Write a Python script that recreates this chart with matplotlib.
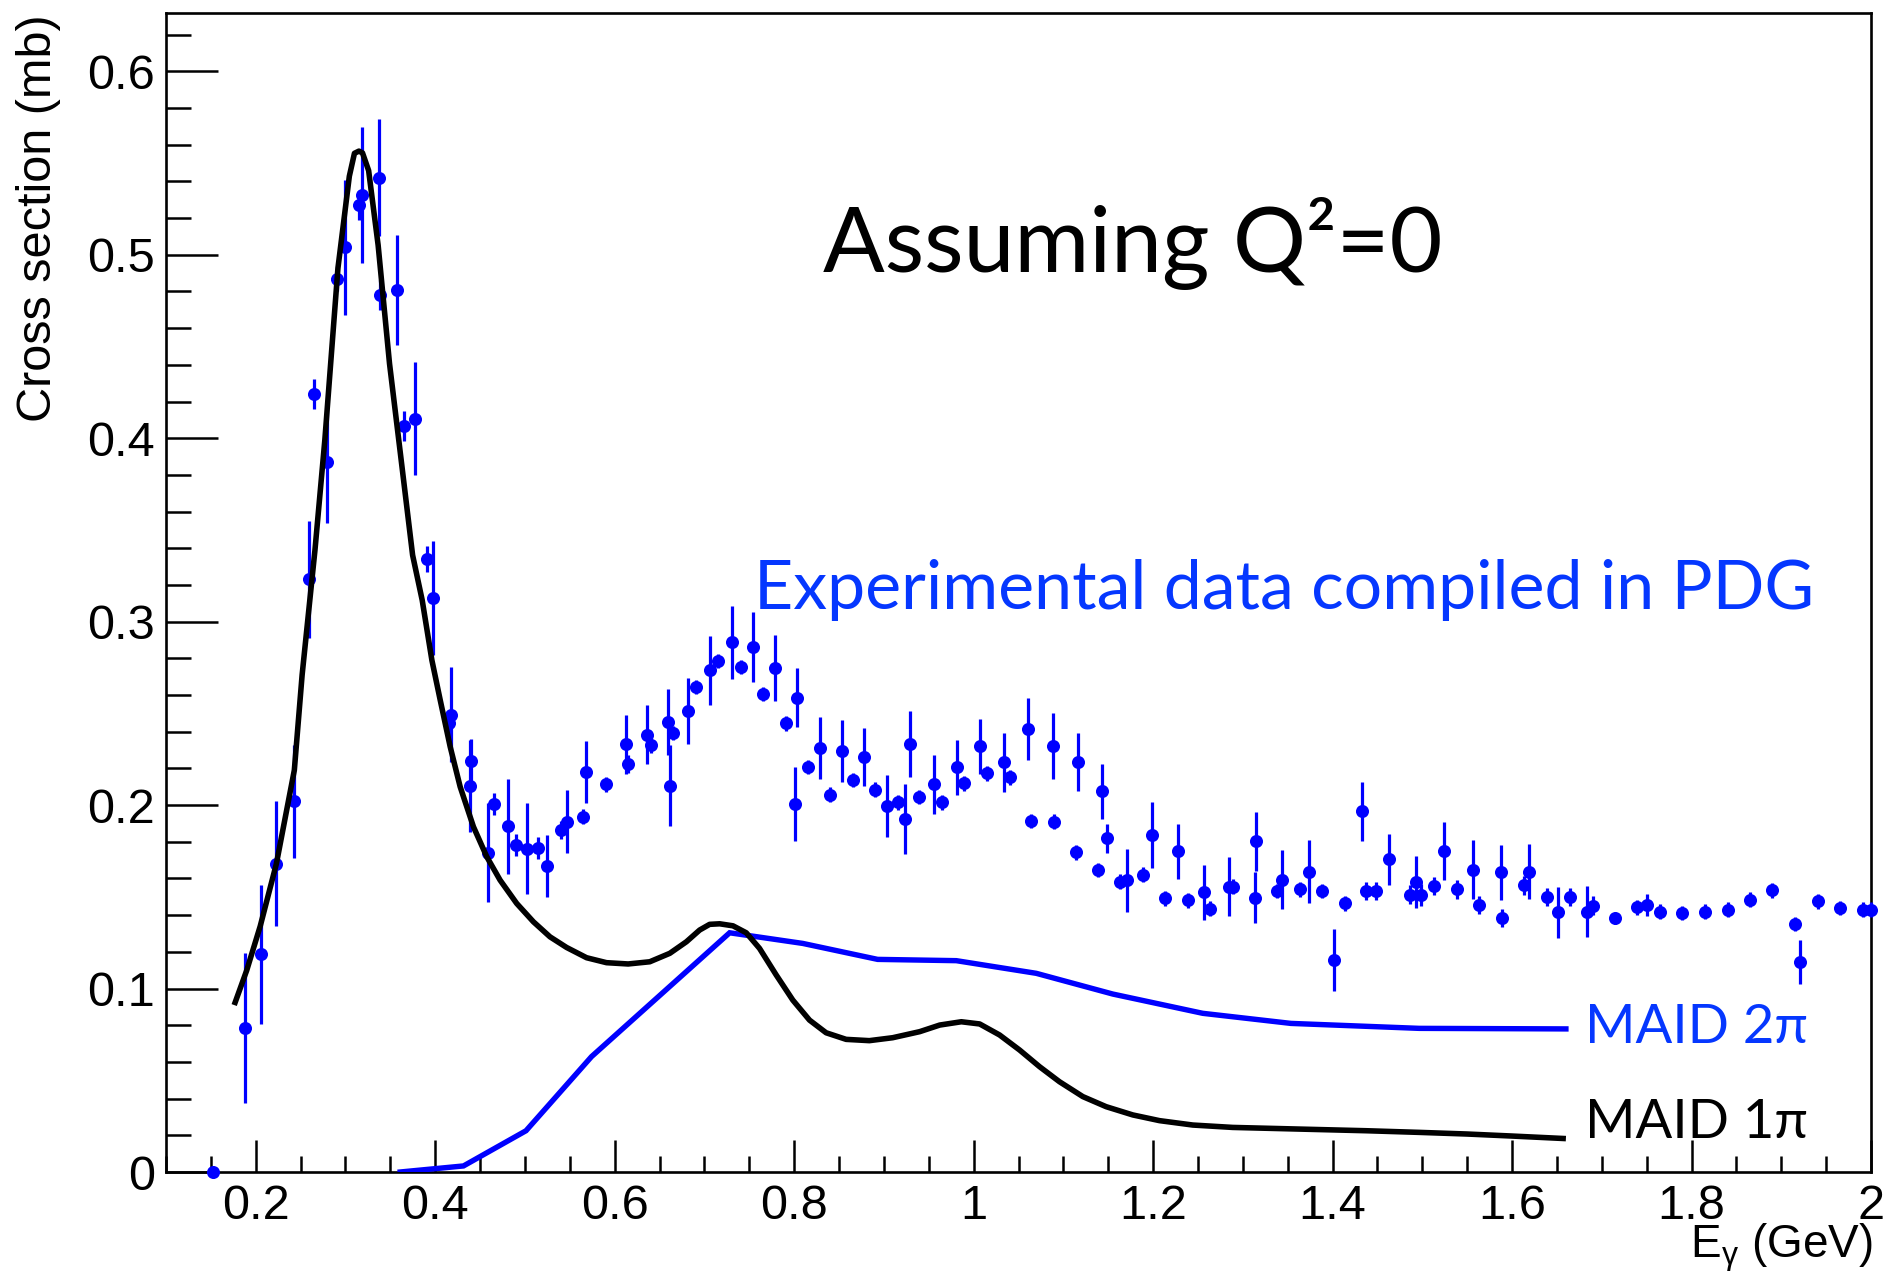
import matplotlib
matplotlib.use("Agg")
import matplotlib.pyplot as plt
from matplotlib.ticker import MultipleLocator, FuncFormatter

W, H, DPI = 1888, 1277, 100

plt.rcParams["font.family"] = ["Liberation Sans", "DejaVu Sans"]
plt.rcParams["mathtext.fontset"] = "custom"
plt.rcParams["mathtext.rm"] = "Liberation Sans"
plt.rcParams["mathtext.it"] = "Liberation Sans"
plt.rcParams["mathtext.default"] = "regular"

# PDG compilation of total photoabsorption data: E_gamma (GeV), sigma (mb), error (mb)
pdg_energy = [
    0.152, 0.188, 0.2055, 0.2229, 0.2428, 0.2597, 0.265, 0.2796, 0.290, 0.299,
    0.3146, 0.318, 0.337, 0.339, 0.357, 0.365, 0.377, 0.3905, 0.397, 0.4153,
    0.418, 0.440, 0.4386, 0.459, 0.4655, 0.4814, 0.490, 0.502, 0.515, 0.5246,
    0.540, 0.5465, 0.565, 0.5684, 0.5898, 0.613, 0.6146, 0.6365, 0.640, 0.6594,
    0.6613, 0.6653, 0.682, 0.6907, 0.7066, 0.715, 0.7305, 0.7404, 0.7543, 0.7653,
    0.7787, 0.7906, 0.8006, 0.8035, 0.8155, 0.8284, 0.8403, 0.8528, 0.8653, 0.878,
    0.890, 0.904, 0.9153, 0.9238, 0.9292, 0.9396, 0.9559, 0.9644, 0.9817, 0.9896,
    1.0074, 1.0144, 1.0342, 1.040, 1.0609, 1.0644, 1.0881, 1.0891, 1.1139, 1.1158,
    1.1391, 1.143, 1.149, 1.1634, 1.1708, 1.1886, 1.1985, 1.2134, 1.2272, 1.2386,
    1.2564, 1.2634, 1.2842, 1.289, 1.3134, 1.3144, 1.3376, 1.3436, 1.3634, 1.3733,
    1.3881, 1.402, 1.4134, 1.4327, 1.4376, 1.448, 1.4624, 1.4862, 1.4933, 1.498,
    1.513, 1.5243, 1.5384, 1.556, 1.5634, 1.588, 1.5888, 1.613, 1.619, 1.6388,
    1.6515, 1.6642, 1.6832, 1.690, 1.7146, 1.7396, 1.75, 1.765, 1.7896, 1.815,
    1.8403, 1.8653, 1.890, 1.9153, 1.9205, 1.9407, 1.9657, 1.9907, 2.0,
]
pdg_sigma = [
    0.000, 0.0784, 0.1186, 0.168, 0.202, 0.323, 0.424, 0.387, 0.487, 0.504,
    0.527, 0.5325, 0.542, 0.478, 0.4806, 0.4066, 0.4107, 0.334, 0.3127, 0.2445,
    0.2493, 0.2242, 0.2106, 0.174, 0.2004, 0.1885, 0.178, 0.1763, 0.1767, 0.1668,
    0.1864, 0.191, 0.1937, 0.218, 0.2113, 0.2332, 0.2224, 0.2384, 0.2325, 0.2454,
    0.2106, 0.2393, 0.2513, 0.2644, 0.2734, 0.2786, 0.2888, 0.2753, 0.2863, 0.2606,
    0.2748, 0.2445, 0.2007, 0.2585, 0.2208, 0.2312, 0.2056, 0.2296, 0.2136, 0.2262,
    0.2084, 0.1995, 0.2016, 0.1925, 0.2332, 0.2045, 0.2113, 0.2016, 0.2206, 0.2118,
    0.2321, 0.2174, 0.2233, 0.2151, 0.2414, 0.1914, 0.2321, 0.191, 0.1742, 0.2235,
    0.1647, 0.2075, 0.1819, 0.1582, 0.1589, 0.162, 0.1837, 0.1492, 0.1749, 0.148,
    0.1525, 0.1435, 0.1555, 0.1555, 0.1496, 0.1803, 0.1532, 0.1593, 0.1541, 0.1638,
    0.1532, 0.1157, 0.1464, 0.1966, 0.1532, 0.1532, 0.1704, 0.1512, 0.158, 0.1509,
    0.1558, 0.175, 0.154, 0.1648, 0.1457, 0.1635, 0.1384, 0.1562, 0.1637, 0.150,
    0.1415, 0.150, 0.142, 0.1452, 0.1384, 0.1443, 0.1457, 0.142, 0.1411, 0.142,
    0.143, 0.1485, 0.1536, 0.1351, 0.1146, 0.1475, 0.1439, 0.143, 0.143,
]
pdg_error = [
    0.0, 0.041, 0.038, 0.034, 0.031, 0.032, 0.008, 0.033, 0.007, 0.037,
    0.008, 0.037, 0.032, 0.008, 0.030, 0.008, 0.031, 0.007, 0.031, 0.005,
    0.026, 0.012, 0.025, 0.027, 0.006, 0.026, 0.006, 0.025, 0.006, 0.017,
    0.005, 0.017, 0.004, 0.017, 0.004, 0.016, 0.005, 0.016, 0.004, 0.018,
    0.022, 0.004, 0.018, 0.004, 0.019, 0.004, 0.020, 0.004, 0.019, 0.004,
    0.018, 0.004, 0.020, 0.016, 0.004, 0.017, 0.004, 0.017, 0.004, 0.016,
    0.004, 0.017, 0.004, 0.019, 0.018, 0.004, 0.016, 0.004, 0.015, 0.004,
    0.015, 0.004, 0.016, 0.004, 0.017, 0.004, 0.018, 0.004, 0.004, 0.016,
    0.004, 0.015, 0.008, 0.004, 0.017, 0.004, 0.018, 0.004, 0.015, 0.004,
    0.015, 0.004, 0.016, 0.004, 0.014, 0.016, 0.004, 0.016, 0.004, 0.017,
    0.004, 0.017, 0.004, 0.016, 0.005, 0.005, 0.014, 0.005, 0.014, 0.006,
    0.005, 0.016, 0.005, 0.016, 0.005, 0.015, 0.005, 0.005, 0.015, 0.005,
    0.014, 0.005, 0.014, 0.005, 0.003, 0.004, 0.006, 0.004, 0.004, 0.004,
    0.004, 0.004, 0.004, 0.004, 0.012, 0.004, 0.004, 0.004, 0.004,
]

# MAID single-pion photoproduction (Q^2 = 0)
maid1_energy = [
    0.176, 0.190, 0.205, 0.223, 0.243, 0.2517, 0.266, 0.277, 0.2916, 0.3043,
    0.310, 0.315, 0.319, 0.3258, 0.3364, 0.3491, 0.362, 0.3748, 0.3855, 0.3963,
    0.4056, 0.4167, 0.4278, 0.4426, 0.4575, 0.4723, 0.4908, 0.5094, 0.5279, 0.5464,
    0.5687, 0.5909, 0.615, 0.6391, 0.6614, 0.6799, 0.6947, 0.7058, 0.717, 0.7318,
    0.7466, 0.7614, 0.780, 0.7985, 0.8171, 0.8356, 0.8579, 0.8838, 0.9098, 0.9399,
    0.9622, 0.9863, 1.0067, 1.0289, 1.0512, 1.0735, 1.0957, 1.1217, 1.1477, 1.1774,
    1.2071, 1.2442, 1.2887, 1.3629, 1.4371, 1.4965, 1.550, 1.600, 1.660,
]
maid1_sigma = [
    0.091, 0.110, 0.134, 0.168, 0.219, 0.271, 0.339, 0.399, 0.4927, 0.5428,
    0.5553, 0.5565, 0.5555, 0.5459, 0.5052, 0.4406, 0.3884, 0.3363, 0.3117, 0.279,
    0.2572, 0.2318, 0.210, 0.1882, 0.1718, 0.1591, 0.1464, 0.1364, 0.1282, 0.1224,
    0.1168, 0.1141, 0.1134, 0.1146, 0.1192, 0.1255, 0.1319, 0.135, 0.1353, 0.1342,
    0.1304, 0.1219, 0.1074, 0.0937, 0.0828, 0.0759, 0.0723, 0.0716, 0.0732, 0.0765,
    0.0801, 0.0819, 0.0807, 0.0747, 0.0665, 0.0574, 0.0492, 0.0411, 0.0356, 0.0311,
    0.028, 0.0256, 0.0243, 0.0234, 0.0225, 0.0216, 0.0207, 0.0196, 0.0182,
]

# MAID double-pion photoproduction (Q^2 = 0)
maid2_energy = [0.361, 0.4315, 0.5012, 0.5742, 0.7281, 0.8096, 0.8930, 0.9807,
                1.0698, 1.1551, 1.2553, 1.3536, 1.4965, 1.660]
maid2_sigma = [0.0, 0.0033, 0.0225, 0.0629, 0.1304, 0.1246, 0.1159, 0.1152,
               0.1083, 0.097, 0.0865, 0.081, 0.0783, 0.078]

BLUE = "#0000ff"
TEXT_BLUE = "#0537ff"

fig = plt.figure(figsize=(W / DPI, H / DPI), dpi=DPI)
left, right, top, bottom = 166, 1871, 12.6, 1172
ax = fig.add_axes([left / W, 1 - bottom / H, (right - left) / W, (bottom - top) / H])

eb = ax.errorbar(pdg_energy, pdg_sigma, yerr=pdg_error, fmt="o", color=BLUE,
                 ms=9.4, mew=0, elinewidth=2.3, capsize=0, zorder=3)
for artist in eb.get_children():
    artist.set_clip_on(False)

ax.plot(maid2_energy, maid2_sigma, color=BLUE, lw=3.9, zorder=4,
        solid_joinstyle="miter")
ax.plot(maid1_energy, maid1_sigma, color="black", lw=4.0, zorder=5,
        solid_joinstyle="round", solid_capstyle="butt")

ax.set_xlim(0.1, 2.0)
ax.set_ylim(0.0, 0.632)

ax.xaxis.set_major_locator(MultipleLocator(0.2))
ax.xaxis.set_minor_locator(MultipleLocator(0.05))
ax.yaxis.set_major_locator(MultipleLocator(0.1))
ax.yaxis.set_minor_locator(MultipleLocator(0.02))
fmt = FuncFormatter(lambda v, p: "%g" % round(v, 3))
ax.xaxis.set_major_formatter(fmt)
ax.yaxis.set_major_formatter(fmt)

for s in ax.spines.values():
    s.set_linewidth(1.9)

ax.tick_params(which="both", direction="in", top=False, right=False, width=1.8,
               labelsize=35)
ax.tick_params(axis="y", which="major", length=37.5, pad=8)
ax.tick_params(axis="y", which="minor", length=18)
ax.tick_params(axis="x", which="major", length=23, pad=8.5)
ax.tick_params(axis="x", which="minor", length=11.5)

# axis titles
fig.text(39 / W, 1 - 14 / H, "Cross section (mb)", rotation=90, ha="center",
         va="top", fontsize=35)
fig.text(1873 / W, 1 - 1258 / H, r"E$_{\gamma}$ (GeV)", ha="right",
         va="baseline", fontsize=33)

renderer = fig.canvas.get_renderer()
ANNOT_FONT = ["Lato", "DejaVu Sans"]


def fitted_text(x0, x1, y_base, s, color, size=None):
    t = fig.text(x0 / W, 1 - y_base / H, s, ha="left", va="baseline",
                 color=color, family=ANNOT_FONT, fontsize=40)
    if size is None:
        w = t.get_window_extent(renderer).width
        size = 40 * (x1 - x0) / w
    t.set_fontsize(size)
    return size


fitted_text(822.7, 1441, 272, "Assuming Q\u00b2=0", "black")
fitted_text(754, 1813, 609, "Experimental data compiled in PDG", TEXT_BLUE)
sz = fitted_text(1585, 1808, 1043, "MAID 2\u03c0", TEXT_BLUE)
fitted_text(1585, 1808, 1138, "MAID 1\u03c0", "black", size=sz)

fig.savefig("out.png", dpi=DPI)
